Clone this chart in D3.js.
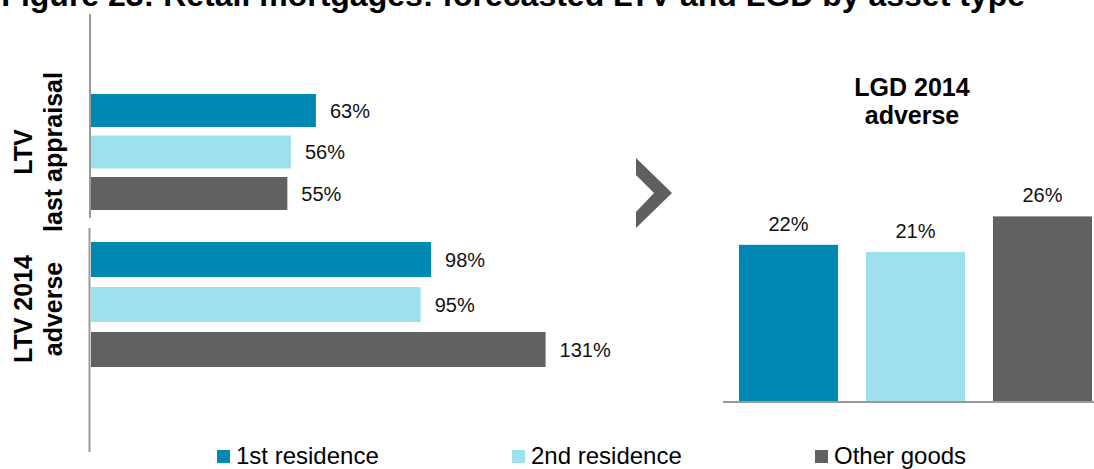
<!DOCTYPE html>
<html>
<head>
<meta charset="utf-8">
<script src="https://cdn.jsdelivr.net/npm/d3@7/dist/d3.min.js"></script>
<style>
  html, body { margin: 0; padding: 0; background: #fff; }
  svg { display: block; font-family: "Liberation Sans", Arial, sans-serif; }
</style>
</head>
<body>
<svg id="chart" width="1094" height="469"></svg>
<script>
// Asset types (series) and their colours
const series = ["1st residence", "2nd residence", "Other goods"];
const colors = ["#0088B2", "#9EE0EC", "#616161"];

// LTV panels (horizontal bars), values in %
const ltvLastAppraisal = [63, 56, 55];
const ltvAdverse2014 = [98, 95, 131];

// LGD panel (vertical bars), values in %
const lgdAdverse2014 = [22, 21, 26];

const title = "Figure 23: Retail mortgages: forecasted LTV and LGD by asset type";

const svg = d3.select("#chart");
const color = d3.scaleOrdinal().domain(series).range(colors);

// Title (partly clipped at the top edge)
svg.append("text")
  .attr("x", 1025).attr("y", 6)
  .attr("text-anchor", "end")
  .attr("font-size", 32).attr("font-weight", "bold")
  .attr("fill", "#000")
  .text(title);

// ---- Left: LTV horizontal bars ----
const axisX = 90;
svg.append("line").attr("x1", axisX).attr("x2", axisX).attr("y1", 14).attr("y2", 218)
  .attr("stroke", "#9a9a9a").attr("stroke-width", 2);
svg.append("line").attr("x1", axisX - 0.5).attr("x2", axisX - 0.5).attr("y1", 228).attr("y2", 452)
  .attr("stroke", "#9a9a9a").attr("stroke-width", 2);

const panels = [
  { values: ltvLastAppraisal, yRange: [89.75, 214.25], pad: 0.205, xMax: 357, labels: ["LTV", "last appraisal"], labelY: 152 },
  { values: ltvAdverse2014, yRange: [237, 372], pad: 0.222, xMax: 347, labels: ["LTV 2014", "adverse"], labelY: 309 }
];

panels.forEach(p => {
  const y = d3.scaleBand().domain(series).range(p.yRange).paddingInner(p.pad).paddingOuter(p.pad / 2);
  const x = d3.scaleLinear().domain([0, 100]).range([axisX + 1, axisX + 1 + p.xMax]);
  const g = svg.append("g");
  g.selectAll("rect").data(p.values).join("rect")
    .attr("x", x(0))
    .attr("y", (d, i) => y(series[i]))
    .attr("width", d => x(d) - x(0))
    .attr("height", y.bandwidth())
    .attr("fill", (d, i) => color(series[i]));
  g.selectAll("text.val").data(p.values).join("text")
    .attr("class", "val")
    .attr("x", d => x(d) + 14)
    .attr("y", (d, i) => y(series[i]) + y.bandwidth() / 2)
    .attr("dy", "0.36em")
    .attr("font-size", 20)
    .attr("fill", "#111")
    .text(d => d + "%");
  // rotated group label, two lines
  const lg = svg.append("g").attr("transform", `translate(0,${p.labelY}) rotate(-90)`);
  lg.append("text").attr("x", 0).attr("y", 32).attr("text-anchor", "middle")
    .attr("font-size", 25).attr("font-weight", "bold").attr("fill", "#000").text(p.labels[0]);
  lg.append("text").attr("x", 0).attr("y", 62).attr("text-anchor", "middle")
    .attr("font-size", 25).attr("font-weight", "bold").attr("fill", "#000").text(p.labels[1]);
});

// ---- Chevron between panels ----
svg.append("polygon")
  .attr("points", "636,158 672,193 636,228 636,212 654,193 636,175")
  .attr("fill", "#5f5f5f");

// ---- Right: LGD vertical bars ----
const xb = d3.scaleBand().domain(series).range([725, 1106]).paddingInner(0.22).paddingOuter(0.11);
const yb = d3.scaleLinear().domain([0, 30]).range([401, 188]);

svg.append("g").selectAll("rect").data(lgdAdverse2014).join("rect")
  .attr("x", (d, i) => xb(series[i]))
  .attr("y", d => yb(d))
  .attr("width", xb.bandwidth())
  .attr("height", d => yb(0) - yb(d))
  .attr("fill", (d, i) => color(series[i]));

svg.append("g").selectAll("text").data(lgdAdverse2014).join("text")
  .attr("x", (d, i) => xb(series[i]) + xb.bandwidth() / 2)
  .attr("y", d => yb(d) - 14)
  .attr("text-anchor", "middle")
  .attr("font-size", 20)
  .attr("fill", "#111")
  .text(d => d + "%");

svg.append("line").attr("x1", 723).attr("x2", 1094).attr("y1", 402).attr("y2", 402)
  .attr("stroke", "#9a9a9a").attr("stroke-width", 2);

const lgdTitle = ["LGD 2014", "adverse"];
svg.append("g").selectAll("text").data(lgdTitle).join("text")
  .attr("x", 912)
  .attr("y", (d, i) => 96 + i * 28)
  .attr("text-anchor", "middle")
  .attr("font-size", 25).attr("font-weight", "bold").attr("fill", "#000")
  .text(d => d);

// ---- Legend ----
const legendX = [217, 512, 815];
const lg = svg.append("g").selectAll("g").data(series).join("g")
  .attr("transform", (d, i) => `translate(${legendX[i]},450)`);
lg.append("rect").attr("width", 13).attr("height", 13).attr("fill", d => color(d));
lg.append("text").attr("x", 19).attr("y", 14).attr("font-size", 24).attr("fill", "#000").text(d => d);
</script>
</body>
</html>
